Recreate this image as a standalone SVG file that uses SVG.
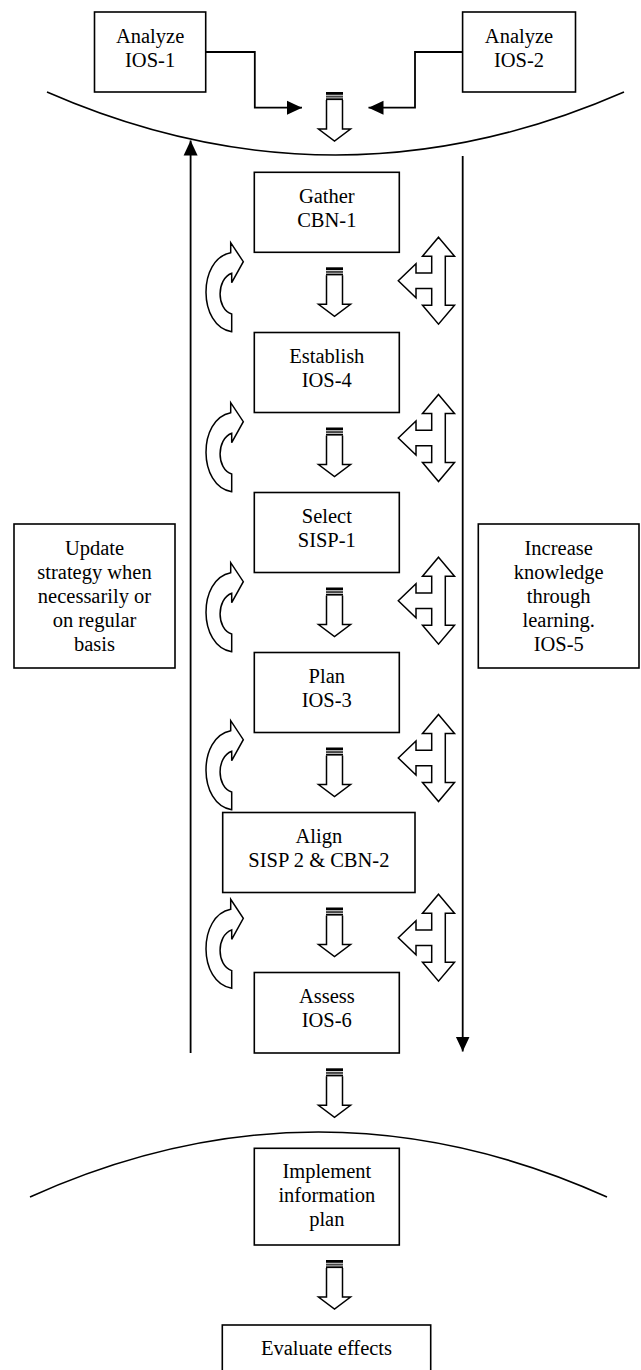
<svg xmlns="http://www.w3.org/2000/svg" xmlns:xlink="http://www.w3.org/1999/xlink" width="641" height="1370" viewBox="0 0 641 1370" font-family="'Liberation Serif', 'Times New Roman', serif">
<style>
.box{fill:#fff;stroke:#000;stroke-width:1.6}
.t{font-family:'Liberation Serif','Times New Roman',serif;font-size:20.5px;fill:#000;text-anchor:middle}
.ln{fill:none;stroke:#000;stroke-width:1.8}
.sh{fill:#fff;stroke:#000;stroke-width:1.5;stroke-linejoin:miter}
.cv{fill:none;stroke:#000;stroke-width:1.6}
</style>
<defs>
<marker id="ah" markerUnits="userSpaceOnUse" markerWidth="16" markerHeight="16" viewBox="0 0 16 16" refX="15" refY="8" orient="auto">
<path d="M0,1 L15,8 L0,15 Z" fill="#000"/>
</marker>
<g id="blk">
<path class="sh" d="M-8,8 V37 H-16 L0,49 L16,37 H8 V8"/>
<rect x="-8.5" y="0" width="17" height="2.8" fill="#000"/>
<rect x="-8.5" y="3.6" width="17" height="2" fill="#444"/>
<rect x="-8.5" y="6.3" width="17" height="1.8" fill="#000"/>
</g>
<path id="dbl" class="sh" d="M0,-43.5 L16,-24.5 H6.8 V24.5 H16 L0,43.5 L-16,24.5 H-6.8 V7.8 H-22.5 V17 L-40.2,0 L-22.5,-17 V-7.8 H-6.8 V-24.5 H-16 Z"/>
<path id="crv" class="sh" d="M230.7,252.7 V242.7 L243.3,261.7 L231.7,282.7 V273.3 C216.2,279 216.2,309 231.7,314 V331.7 C197.6,326 197.6,259 230.7,252.7 Z"/>
</defs>

<g id="curves">
<path class="cv" d="M47,92 Q335.5,218 624,92"/>
<path class="cv" d="M30,1197 Q318.5,1067 607,1197"/>
</g>

<g id="connectors">
<polyline class="ln" points="205.7,52 254.8,52 254.8,107.7 302,107.7" marker-end="url(#ah)"/>
<polyline class="ln" points="462.6,52 415,52 415,107.7 368.5,107.7" marker-end="url(#ah)"/>
<line class="ln" x1="190.6" y1="1053" x2="190.6" y2="140.5" marker-end="url(#ah)"/>
<line class="ln" x1="462.7" y1="156" x2="462.7" y2="1051.5" marker-end="url(#ah)"/>
<use xlink:href="#blk" href="#blk" x="334.5" y="92"/>
<use xlink:href="#blk" href="#blk" x="334.5" y="267.3"/>
<use xlink:href="#blk" href="#blk" x="334.5" y="427.5"/>
<use xlink:href="#blk" href="#blk" x="334.5" y="587.5"/>
<use xlink:href="#blk" href="#blk" x="334.5" y="747.5"/>
<use xlink:href="#blk" href="#blk" x="334.5" y="907.5"/>
<use xlink:href="#blk" href="#blk" x="334.5" y="1068.3"/>
<use xlink:href="#blk" href="#blk" x="334.5" y="1260"/>
<use xlink:href="#dbl" href="#dbl" x="438.5" y="280.7"/>
<use xlink:href="#dbl" href="#dbl" x="438.5" y="438"/>
<use xlink:href="#dbl" href="#dbl" x="438.5" y="600.7"/>
<use xlink:href="#dbl" href="#dbl" x="438.5" y="758"/>
<use xlink:href="#dbl" href="#dbl" x="438.5" y="937.7"/>
<use xlink:href="#crv" href="#crv" x="0" y="0"/>
<use xlink:href="#crv" href="#crv" x="0" y="160"/>
<use xlink:href="#crv" href="#crv" x="0" y="320"/>
<use xlink:href="#crv" href="#crv" x="0" y="478"/>
<use xlink:href="#crv" href="#crv" x="0" y="656.6"/>
</g>

<g id="analyze1"><rect class="box" x="94.5" y="12" width="111.2" height="80"/>
<text class="t" x="150.1" y="43.3">Analyze</text><text class="t" x="150.1" y="67">IOS-1</text></g>
<g id="analyze2"><rect class="box" x="462.6" y="12" width="112.9" height="80"/>
<text class="t" x="519" y="43.3">Analyze</text><text class="t" x="519" y="67">IOS-2</text></g>

<g id="gather"><rect class="box" x="254.3" y="172.3" width="145" height="80"/>
<text class="t" x="326.8" y="203">Gather</text><text class="t" x="326.8" y="227">CBN-1</text></g>
<g id="establish"><rect class="box" x="254.3" y="332.5" width="145" height="80"/>
<text class="t" x="326.8" y="363">Establish</text><text class="t" x="326.8" y="387">IOS-4</text></g>
<g id="select"><rect class="box" x="254.3" y="492.5" width="145" height="80"/>
<text class="t" x="326.8" y="523">Select</text><text class="t" x="326.8" y="547">SISP-1</text></g>
<g id="plan"><rect class="box" x="254.3" y="652.5" width="145" height="80"/>
<text class="t" x="326.8" y="683">Plan</text><text class="t" x="326.8" y="707">IOS-3</text></g>
<g id="align"><rect class="box" x="222.7" y="812.5" width="192.3" height="80"/>
<text class="t" x="318.9" y="843">Align</text><text class="t" x="318.9" y="867.3">SISP 2 &amp; CBN-2</text></g>
<g id="assess"><rect class="box" x="254.3" y="972.5" width="145" height="80.5"/>
<text class="t" x="326.8" y="1002.8">Assess</text><text class="t" x="326.8" y="1027.3">IOS-6</text></g>

<g id="update"><rect class="box" x="14" y="524" width="161" height="144"/>
<text class="t" x="94.5" y="555">Update</text><text class="t" x="94.5" y="579">strategy when</text><text class="t" x="94.5" y="603">necessarily or</text><text class="t" x="94.5" y="627">on regular</text><text class="t" x="94.5" y="651">basis</text></g>
<g id="increase"><rect class="box" x="478.3" y="524" width="160.7" height="144"/>
<text class="t" x="558.7" y="555">Increase</text><text class="t" x="558.7" y="579">knowledge</text><text class="t" x="558.7" y="603">through</text><text class="t" x="558.7" y="627">learning.</text><text class="t" x="558.7" y="651">IOS-5</text></g>

<g id="implement"><rect class="box" x="254.3" y="1148.3" width="145" height="96.7"/>
<text class="t" x="326.8" y="1178">Implement</text><text class="t" x="326.8" y="1202">information</text><text class="t" x="326.8" y="1226">plan</text></g>
<g id="evaluate"><rect class="box" x="222.3" y="1325" width="208.4" height="60"/>
<text class="t" x="326.5" y="1355">Evaluate effects</text></g>
</svg>
